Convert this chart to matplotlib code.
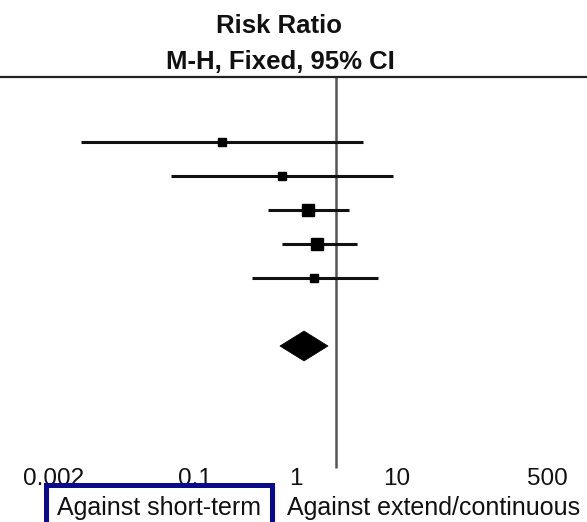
import matplotlib
matplotlib.use("Agg")
import matplotlib.pyplot as plt
from matplotlib.patches import Polygon, Rectangle
import numpy as np

plt.rcParams['font.family'] = ['Liberation Sans', 'DejaVu Sans']

# ---- data ----
rr_est   = [0.077, 0.298, 0.533, 0.653, 0.610]
rr_lower = [0.0033, 0.0246, 0.217, 0.298, 0.152]
rr_upper = [1.83, 3.59, 1.34, 1.60, 2.57]
weights  = [4.0, 5.0, 40.0, 42.0, 12.0]
pooled_est, pooled_lower, pooled_upper = 0.488, 0.284, 0.836
tick_values = [0.002, 0.1, 1, 10, 500]
tick_labels = ["0.002", "0.1", "1", "10", "500"]
title_lines = ["Risk Ratio", "M-H, Fixed, 95% CI"]
left_label = "Against short-term"
right_label = "Against extend/continuous"

W, H = 587, 522
fig = plt.figure(figsize=(W / 100, H / 100), dpi=100)
fig.patch.set_facecolor("white")

# main axes covering whole figure
ax = fig.add_axes([0, 0, 1, 1])
ax.set_xscale("log")
pxdec = 102.6
xnull = 336
ax.set_xlim(10 ** (-xnull / pxdec), 10 ** ((W - xnull) / pxdec))
row_px0, row_step = 142, 34
ax.set_ylim(1 + (H - row_px0) / row_step, 1 - row_px0 / row_step)
ax.axis("off")

rows = np.arange(1, len(rr_est) + 1)
pooled_row = len(rr_est) + 2

# line of no effect and top rule
top_y = 1 - (row_px0 - 77) / row_step
bot_y = 1 + (468 - row_px0) / row_step
ax.plot([1, 1], [top_y, bot_y], color="#555555", lw=1.8, solid_capstyle="butt", zorder=1)
ax.axhline(top_y, color="#222222", lw=1.6, zorder=1)

# studies
for r, e, lo, hi, w in zip(rows, rr_est, rr_lower, rr_upper, weights):
    ax.plot([lo, hi], [r, r], color="#111111", lw=2.2, solid_capstyle="butt", zorder=2)
    ms = max(5.8, 1.4 * np.sqrt(w))
    ax.plot([e], [r], marker="s", ms=ms, color="#000000", mec="#000000", zorder=3)

# pooled diamond
hh = 0.44
ax.add_patch(Polygon([[pooled_lower, pooled_row], [pooled_est, pooled_row - hh],
                      [pooled_upper, pooled_row], [pooled_est, pooled_row + hh]],
                     closed=True, facecolor="black", edgecolor="black", lw=0.5, zorder=3))

# titles
fig.text(279 / W, 1 - 33 / H, title_lines[0], ha="center", va="baseline",
         fontsize=18.5, fontweight="bold", color="#111111")
fig.text(280 / W, 1 - 69 / H, title_lines[1], ha="center", va="baseline",
         fontsize=18.5, fontweight="bold", color="#111111")

# tick-label axis (RevMan style scale)
tax = fig.add_axes([23 / W, 1 - 468 / H, 545 / W, 0.0001])
tax.set_xscale("log")
tax.set_xlim(tick_values[0], tick_values[-1])
tax.set_xticks(tick_values)
tax.set_xticklabels(tick_labels)
tax.minorticks_off()
tax.tick_params(axis="x", length=0, pad=0, labelsize=17.5, labelcolor="#111111")
tax.set_yticks([])
for s in tax.spines.values():
    s.set_visible(False)
tax.patch.set_alpha(0)
tl = tax.get_xticklabels()
tl[0].set_ha("left")
tl[-1].set_ha("right")

# bottom labels
fig.text(159 / W, 1 - 515 / H, left_label, ha="center", va="baseline",
         fontsize=18, color="#111111")
fig.text(287 / W, 1 - 515 / H, right_label, ha="left", va="baseline",
         fontsize=18, color="#111111")

# highlight box
fig.patches.append(Rectangle((46 / W, -10 / H), (272 - 46) / W, (H + 10 - 485) / H,
                             transform=fig.transFigure, fill=False,
                             edgecolor="#0a0a8a", lw=3.6, zorder=5))

fig.savefig("out.png", dpi=100, facecolor="white")
